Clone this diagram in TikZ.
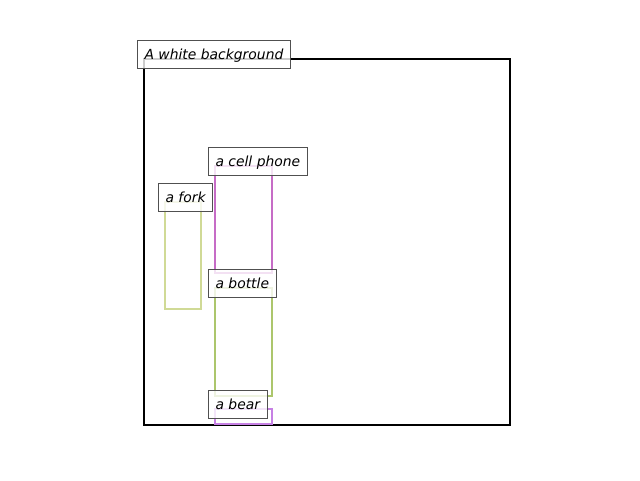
\documentclass[tikz,border=0pt]{standalone}
\usepackage{fontspec}
\setmainfont{DejaVu Sans}
\definecolor{forkcol}{RGB}{208,218,150}
\definecolor{phonecol}{RGB}{198,108,198}
\definecolor{bottlecol}{RGB}{172,198,108}
\definecolor{bearcol}{RGB}{198,128,228}
\definecolor{lblgray}{RGB}{80,80,80}
\begin{document}
\begin{tikzpicture}[x=1pt, y=-1pt,
    lbl/.style={draw=lblgray, line width=1pt, fill=white, fill opacity=0.8, text opacity=1,
      anchor=west, inner xsep=7pt, inner ysep=0pt, minimum height=28pt,
      text height=12pt, text depth=1pt, font=\fontsize{13.9}{16}\selectfont\itshape}]
  \useasboundingbox (0,0) rectangle (640,480);

  % image frame
  \draw[black, line width=2pt] (144,59) rectangle (510,425);
  \node[lbl] (lbl-bg) at (137,54) {A white background};

  \foreach \name/\col/\xa/\ya/\xb/\yb/\txt in {
      fork/forkcol/165/202/201/309/{a fork},
      phone/phonecol/215/166/272/273/{a cell phone},
      bottle/bottlecol/215/288/272/396/{a bottle},
      bear/bearcol/215/409/272/424/{a bear}} {
    \draw[\col, line width=2.5pt] (\xa,\ya) rectangle (\xb,\yb);
    \node[lbl] (lbl-\name) at ({\xa - 7}, {\ya - 5}) {\txt};
  }
\end{tikzpicture}
\end{document}
